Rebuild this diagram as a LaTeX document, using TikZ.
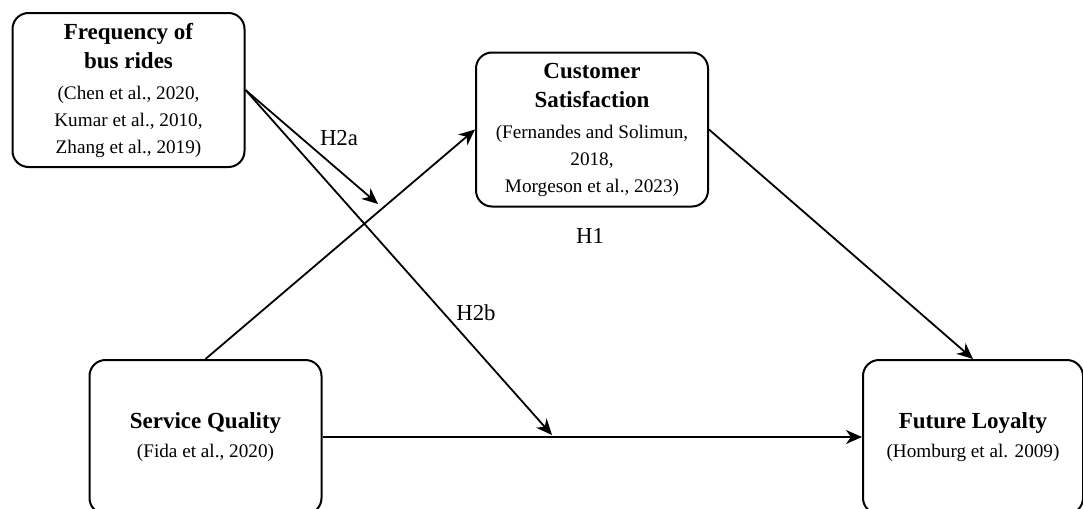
\documentclass[tikz,border=0pt]{standalone}
\usepackage{fontspec}
\setmainfont{Liberation Serif}
\usepackage{tikz}
\usetikzlibrary{positioning}
\usetikzlibrary{arrows.meta}

\begin{document}
\begin{tikzpicture}[x=0.5pt, y=-0.5pt,
roundednode/.style={rectangle, rounded corners=8pt, draw=black, line width=1pt, fill=white, minimum width=116pt, minimum height=77pt, align=center, inner sep=2pt, font=\fontsize{9.6}{13.5}\selectfont},
hypoarrow/.style={-{Stealth[length=8pt, width=7pt, inset=2.5pt]}, line width=0.9pt},
hypolabel/.style={font=\fontsize{11.4}{13}\selectfont, inner sep=0pt},
]
\useasboundingbox (0,0) rectangle (1083,509);

%Nodes
\node[roundednode]      (freq)   at (128.5,90)    {{\fontsize{11.5}{14}\selectfont\bfseries Frequency of}\\[1pt] {\fontsize{11.5}{14}\selectfont\bfseries bus rides}\\[2pt] (Chen et al., 2020,\\ Kumar et al., 2010,\\ Zhang et al., 2019)};
\node[roundednode]      (cs)     at (592,129.5)   {{\fontsize{11.5}{14}\selectfont\bfseries Customer}\\[1pt] {\fontsize{11.5}{14}\selectfont\bfseries Satisfaction}\\[2pt] (Fernandes and Solimun,\\ 2018,\\ Morgeson et al., 2023)};
\node[roundednode]      (sq)     at (205.5,437)   {{\fontsize{11.5}{14}\selectfont\bfseries Service Quality}\\[1pt] (Fida et al., 2020)};
\node[roundednode, minimum width=110pt] (fl) at (973,437) {{\fontsize{11.5}{14}\selectfont\bfseries Future Loyalty}\\[1pt] (Homburg et al. 2009)};

\coordinate (h2aend) at (378,204);
\coordinate (h2bend) at (552,435);

%Lines
\draw[hypoarrow] (sq.north) -- (cs.west);
\draw[hypoarrow] (sq.east) -- (fl.west);
\draw[hypoarrow] (cs.east) -- (fl.north);
\draw[hypoarrow] (freq.east) -- (h2aend);
\draw[hypoarrow] (freq.east) -- (h2bend);

%Labels
\node[hypolabel] (h2a) at (339,138) {H2a};
\node[hypolabel] (h1)  at (590,236) {H1};
\node[hypolabel] (h2b) at (476,313) {H2b};
\end{tikzpicture}
\end{document}
